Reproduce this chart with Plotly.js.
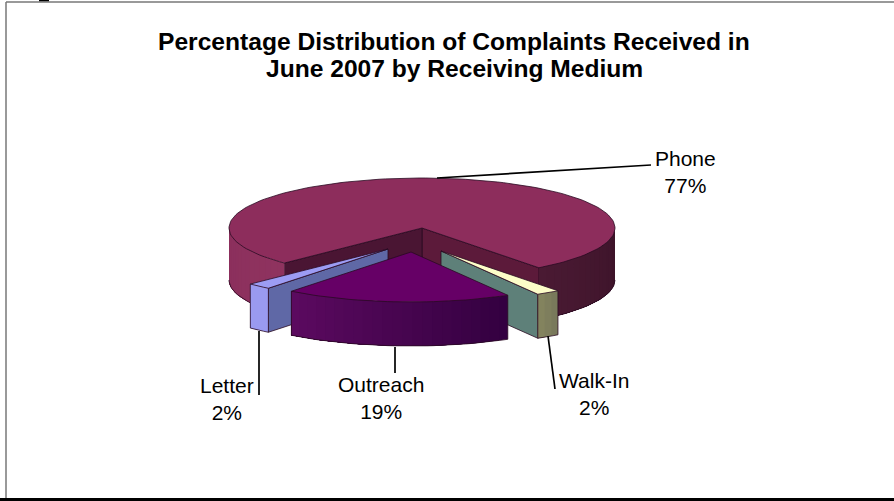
<!DOCTYPE html>
<html>
<head>
<meta charset="utf-8">
<script src="https://cdn.plot.ly/plotly-3.0.0.min.js"></script>
<style>html,body{margin:0;padding:0;background:#fff}#chart{width:894px;height:501px}</style>
</head>
<body>
<div id="chart"></div>
<script>
// Data, clockwise from the start angle
const categories = ["Walk-In", "Outreach", "Letter", "Phone"];
const percents = [2, 19, 2, 77];
const titleLines = ["Percentage Distribution of Complaints Received in", "June 2007 by Receiving Medium"];

// Projection of the tilted pie, in axis units
const startAngle = 142.7, rx = 193, ry = 50;
const center = [422, 228];
const explode = [[19, 23], [-11, 24], [-34, 21], [0, 0]];
const depth = [44, 44, 44, 52];
const topColor = ["#fdfdc8", "#660066", "#9c9cf4", "#8d2d5c"];
const drawOrder = [3, 2, 0, 1];
const startWall = ["", "", "#5f68a6", "#4a1533"];   // wall at slice start angle
const endWall = ["#5e8079", "", "", "#5c1a3a"];     // wall at slice end angle
const rimFrom = ["#77775a", "#330040", "#9a9af0", "#3e142b"];
const rimTo = ["#85855f", "#5c0a60", "#9a9af0", "#3e142b"];

const rad = d => d * Math.PI / 180;
const traces = [];
function lerpColor(a, b, t) {
  const p = s => [1, 3, 5].map(i => parseInt(s.substr(i, 2), 16));
  const A = p(a), B = p(b);
  return "rgb(" + A.map((v, i) => Math.round(v + (B[i] - v) * t)).join(",") + ")";
}
function poly(x, y, color) {
  traces.push({x, y, type: "scatter", mode: "lines", fill: "toself", fillcolor: color,
    line: {color: color, width: 0}, hoverinfo: "skip", showlegend: false});
}
function edge(x, y) {
  traces.push({x, y, type: "scatter", mode: "lines",
    line: {color: "#2a0a22", width: 0.8}, hoverinfo: "skip", showlegend: false});
}
function px(c, a) { return c[0] + rx * Math.sin(rad(a)); }
function py(c, a) { return c[1] - ry * Math.cos(rad(a)); }
function arc(c, a0, a1, dz) {
  const n = Math.max(2, Math.ceil(Math.abs(a1 - a0) / 2));
  const xs = [], ys = [];
  for (let i = 0; i <= n; i++) {
    const a = a0 + (a1 - a0) * i / n;
    xs.push(px(c, a)); ys.push(py(c, a) + dz);
  }
  return [xs, ys];
}
function rim(c, a0, a1, d, col0, col1) {
  // Each strip runs on to the end of the arc, so no background shows between strips
  const steps = Math.max(1, Math.ceil((a1 - a0) / 3));
  for (let s = 0; s < steps; s++) {
    const b0 = a0 + (a1 - a0) * s / steps;
    const t = arc(c, b0, a1, 0), b = arc(c, a1, b0, d);
    poly(t[0].concat(b[0]), t[1].concat(b[1]), lerpColor(col0, col1, (s + 0.5) / steps));
  }
}
function wall(c, a, d, color) {
  const x = [c[0], px(c, a), px(c, a), c[0]];
  const y = [c[1], py(c, a), py(c, a) + d, c[1] + d];
  poly(x, y, color);
  edge(x.concat(x[0]), y.concat(y[0]));
}

const starts = [];
let acc = startAngle;
percents.forEach(v => { starts.push(acc); acc += v * 3.6; });

drawOrder.forEach(i => {
  const c = [center[0] + explode[i][0], center[1] + explode[i][1]];
  const a0 = starts[i], a1 = a0 + percents[i] * 3.6, d = depth[i];
  if (endWall[i]) wall(c, a1 % 360, d, endWall[i]);
  if (startWall[i]) wall(c, a0 % 360, d, startWall[i]);
  if (i === 3) {
    // Phone wraps round the back: its rim shows on the left and on the right
    rim(c, a0, 270, d, "#8f335f", "#8b2f5c");
    rim(c, 450, a1, d, "#3c1329", "#4a1a33");
    const l = arc(c, a0, 270, d), r = arc(c, 450, a1, d);
    edge(l[0], l[1]);
    edge(r[0], r[1]);
  } else {
    rim(c, a0, a1, d, rimFrom[i], rimTo[i]);
    const b = arc(c, a0, a1, d);
    edge([px(c, a0)].concat(b[0], [px(c, a1)]), [py(c, a0)].concat(b[1], [py(c, a1)]));
  }
  const t = arc(c, a0, a1, 0);
  const x = [c[0]].concat(t[0], [c[0]]), y = [c[1]].concat(t[1], [c[1]]);
  poly(x, y, topColor[i]);
  edge(x, y);
});

// Leader lines and labels
const leaders = [[548, 336, 555, 389], [395, 347, 395, 373], [259, 331, 259, 395], [437, 178, 651, 165]];
const labelPos = [[594, 394], [381, 398], [227, 399], [685, 172]];
const shapes = leaders.map(l => ({type: "line", xref: "x", yref: "y", x0: l[0], y0: l[1], x1: l[2], y1: l[3],
  line: {color: "#000", width: 1.7}}));
const frame = [[6, 2, 894, 2, "#777", 1.5], [6, 2, 6, 498, "#777", 1.5], [0, 499.5, 894, 499.5, "#000", 3], [39, 0.5, 49, 0.5, "#000", 1.5]];
frame.forEach(f => shapes.push({type: "line", xref: "x", yref: "y", x0: f[0], y0: f[1], x1: f[2], y1: f[3],
  line: {color: f[4], width: f[5]}}));

const annotations = categories.map((n, i) => ({
  x: labelPos[i][0], y: labelPos[i][1], xref: "x", yref: "y", showarrow: false,
  text: n + "<br>" + percents[i] + "%", align: "center",
  font: {family: "Liberation Sans, Arial, sans-serif", size: 21, color: "#000"}
}));
const titleY = [41, 68];
titleLines.forEach((s, i) => annotations.push({x: 454, y: titleY[i], xref: "x", yref: "y", showarrow: false,
  text: "<b>" + s + "</b>", font: {family: "Liberation Sans, Arial, sans-serif", size: 24.6, color: "#000"}}));

const layout = {
  width: 894, height: 501, margin: {l: 0, r: 0, t: 0, b: 0},
  paper_bgcolor: "#fff", plot_bgcolor: "#fff", showlegend: false,
  xaxis: {range: [0, 894], visible: false, fixedrange: true},
  yaxis: {range: [501, 0], visible: false, fixedrange: true},
  shapes, annotations
};
Plotly.newPlot("chart", traces, layout, {displayModeBar: false, staticPlot: true});
</script>
</body>
</html>
